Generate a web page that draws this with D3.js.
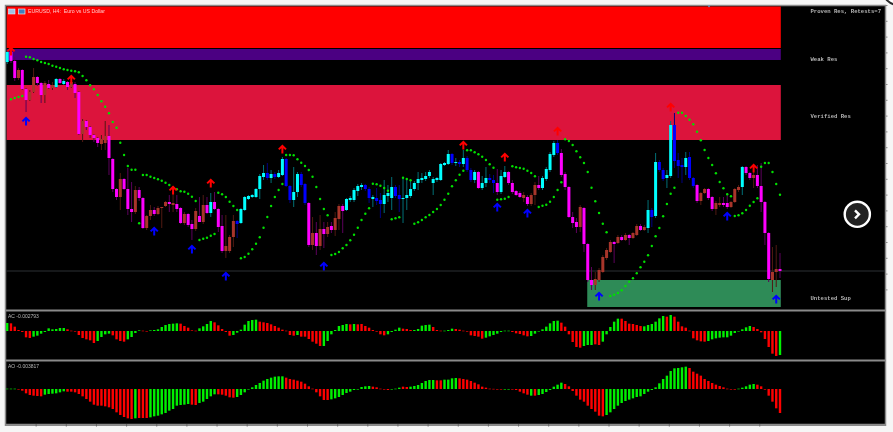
<!DOCTYPE html>
<html><head><meta charset="utf-8">
<style>html,body{margin:0;padding:0;background:#f6f6f6;overflow:hidden}svg{display:block;filter:blur(0.3px)}text{white-space:pre}</style>
<script src="https://cdn.jsdelivr.net/npm/d3@7"></script></head>
<body><script>
const chartTitle="EURUSD, H4:  Euro vs US Dollar";
const acLabel="AC -0.002793", aoLabel="AO -0.003817";
const zoneNames=["Proven Res, Retests=7","Weak Res","Verified Res","Untested Sup"];
const zoneLabelLevels=[309,261.5,204,22.5];
const zoneTops=[313.5,271,235,40], zoneBottoms=[272,260,180,13];
const zoneStartBars=[0,0,0,154];
const zoneColors=["#ff0000","#4b0082","#dc143c","#2e8b57"];
const currentLevel=49;
// candle kind: c bull-in-uptrend, b bear-in-uptrend, m bear-in-downtrend, r bull-in-downtrend
const kinds=("cmmrmmrrmm"+"rmrcmcmrmm"+"rmmmmrrmmm"+"rmmmrmmrrm"+"rrrmrmmrmm"+"rmrmcmmmrr"+"rbcccccccb"+"cbccbbccbb"+"mrmrmrmrrm"+"cccccbbcbb"+"cccbbccccc"+"ccccccccbc"+"bcbbcmccbb"+"mccmmmmrmr"+"rmccccbmmm"+"mmrmmmrrrr"+"rmrmrmrrmr"+"cbcbbccbbb"+"cbbmrrmmrr"+"mmrrrcmmrm"+"mmmrrm").split("");
const opens=[258,268,259,242,250,231,220,228,243,237,225,236,232,233,241,236,238,233,236,228,186,199,193,185,182,176,177,184,161,131,123,141,131,111,108,130,122,92,104,110,106,112,114,118,115,116,112,97,106,96,91,104,98,115,107,118,111,94,69,69,83,99,97,110,121,123,123,131,143,147,142,146,143,145,161,134,120,128,146,136,117,75,87,74,91,86,94,90,101,114,110,120,120,129,133,135,131,121,122,120,116,124,122,133,125,121,122,124,131,137,140,141,144,137,140,140,155,156,166,157,158,156,162,150,140,148,132,137,142,140,137,128,143,148,137,129,127,122,123,116,125,135,132,141,150,165,177,167,146,133,103,98,93,112,76,40,35,40,48,62,68,78,77,83,80,85,82,85,94,90,92,110,104,158,150,142,144,195,160,155,153,163,142,135,119,127,131,123,111,115,117,117,113,118,130,133,153,147,142,145,134,118,87,40,48,51];
const closes=[268,259,242,250,231,220,228,243,237,225,237,232,235,241,237,239,233,238,227,186,199,193,185,182,177,181,184,162,131,123,141,131,111,108,130,122,92,104,110,106,112,113,118,116,117,111,97,106,95,91,109,98,115,107,118,111,93,69,74,83,99,96,111,123,124,125,131,144,147,142,146,143,147,161,134,120,128,146,135,117,75,87,74,91,86,93,90,102,114,109,121,122,130,134,135,131,122,123,119,116,125,127,133,124,121,122,125,131,137,141,142,144,148,141,142,156,157,166,157,158,156,162,150,140,148,132,137,142,140,137,128,144,148,137,128,125,123,125,116,125,135,132,142,151,166,177,167,145,133,103,97,93,113,76,40,35,41,50,63,70,78,76,83,80,85,82,87,94,90,93,110,103,158,150,141,145,195,159,154,153,162,142,134,119,127,131,122,111,117,117,115,113,118,131,133,153,147,142,145,134,118,87,41,48,51,49];
const highs=[270,272,263,252,251,232,230,252,244,238,239,240,238,242,242,241,239,244,238,229,201,200,194,186,183,185,199,195,162,132,147,142,152,138,134,133,123,105,115,113,114,113,119,125,130,125,113,108,107,100,112,123,125,123,127,128,112,105,105,85,105,100,112,124,125,126,132,146,155,157,150,148,150,163,162,135,153,148,148,137,118,103,98,105,98,98,98,108,116,116,122,124,132,136,137,136,133,125,132,127,140,135,143,135,135,142,140,140,139,148,147,148,150,143,143,157,158,170,167,162,160,170,164,152,150,149,144,153,146,145,151,150,154,149,140,130,129,128,125,127,138,144,144,153,168,179,180,171,148,134,108,102,115,113,77,53,48,52,65,72,80,79,85,85,87,86,88,96,96,95,120,112,167,160,152,150,199,207,167,162,168,168,143,136,128,132,132,124,119,123,123,127,119,132,135,154,154,148,148,155,157,119,88,73,75,67];
const lows=[256,257,239,240,230,208,219,227,234,217,217,231,230,232,236,235,230,232,222,185,178,190,182,178,173,170,170,145,128,120,110,130,105,98,106,119,91,90,100,104,105,92,113,108,108,108,96,95,93,80,89,98,96,106,103,110,88,67,62,67,73,82,96,109,120,122,122,121,140,140,137,141,142,144,133,117,113,123,133,115,73,70,65,70,72,83,87,84,90,87,109,118,118,124,130,129,117,113,115,102,107,118,110,122,108,97,110,122,129,130,137,139,142,125,138,139,154,155,155,154,153,153,148,138,137,131,130,133,137,127,125,126,142,135,126,124,122,118,114,114,115,130,130,139,148,163,165,143,130,102,92,87,88,68,38,30,30,38,47,60,67,57,76,79,79,75,81,84,89,89,87,93,102,148,139,132,142,152,142,137,145,140,132,117,115,126,120,109,105,113,113,111,112,117,128,125,145,140,132,132,108,75,38,28,33,42];
const sar=[null,220.7,222,223,224,263.3,262.7,261,259.7,258,257,256,254.3,253.3,252,250.7,250,249.3,248.7,247.7,244,239.7,234.7,230.7,225,218.7,213.3,206.7,198,192.3,177.3,165,154,150.3,150.3,96.7,145,145,143.3,142,140.7,139.3,137.3,135,132.3,130.7,128.7,128.3,126.3,123.3,119,80,81.3,82.3,84.3,86,127.3,125.7,123,118.3,114,110,61.7,63,66.3,70.7,76.3,82.7,92.3,103,114,123,130,136,165,165,164.7,160.7,157.3,154,150,143.3,133,121,111,104.7,65,66,68,71.7,75,79.7,85.3,92.3,100,106.3,111.7,136.3,135.7,134.3,132,129.3,100.7,101.7,102.7,142.3,141,139.7,96.3,97.7,100,102.7,105,108,111,115,120.3,126.3,133.7,139.7,145.3,149.3,169.7,169.7,167.7,165.7,163.3,160,155.7,152.3,120.3,120.7,121.3,123,153.7,152.7,152,151.3,149.3,147,143.7,113,114.3,115.3,118.3,123,130,137.7,180.7,179,175,168.7,162.7,157,148,132.3,118.7,107,96.3,87.7,24,25.3,27,29.7,34,38.3,41.7,46.7,52.7,58.3,64.7,74,83.7,92,103.7,116,126.3,132.3,207.3,207.3,204,200.3,195.7,188.3,179.7,170,162,155,146.7,138,131.7,125.7,123.7,104,104.7,106.7,110,114.3,118,121.7,153.3,157,157,148,136,125.3];
const sellBars=[1,17,44,54,73,121,132,146,176,198], sellLevels=[273,245,134,141,175,179,167,193,217,156];
const buyBars=[5,39,49,58,84,130,138,157,191,204], buyLevels=[203,93,75,48,58,117,111,28,108,25];
const acValues=[24,23,13,3,-3,-19,-21,-17,-14,-8,-3,8,5,6,9,9,5,1,-1,-12,-21,-25,-28,-36,-30,-18,-10,-8,-13,-25,-30,-32,-25,-18,-6,2,1,-1,2,3,5,12,18,21,22,23,22,15,10,2,1,8,14,21,30,26,17,6,-3,-14,-12,-5,4,19,30,33,34,28,26,24,20,15,10,4,1,-12,-14,-12,-17,-17,-24,-32,-38,-45,-45,-30,-10,3,15,18,21,20,21,20,21,15,10,3,-2,-10,-13,-10,-3,4,10,7,6,3,3,6,16,18,19,12,3,1,1,3,7,6,4,1,-2,-13,-15,-17,-23,-20,-16,-12,-8,-3,1,1,-3,-7,-9,-13,-16,-15,-8,-1,5,13,23,30,31,25,13,-10,-33,-48,-50,-45,-42,-42,-40,-42,-32,-10,12,28,37,37,30,22,21,18,15,14,18,21,28,38,45,43,48,43,28,14,10,1,-22,-28,-31,-32,-30,-25,-22,-20,-19,-19,-14,-6,-1,5,11,15,12,6,-4,-24,-48,-68,-75,-72];
const acColors=("grrrrrrggg"+"ggggggrrrr"+"rrrrggggrr"+"rrggggrrgg"+"ggggggrrrr"+"rggggrrrrr"+"gggggggrrr"+"rrrrrrrgrr"+"rrrrgggggg"+"grgrrrrrrr"+"rggggrrrgg"+"gggrrrgggr"+"rrrrrrrggg"+"ggggrrrrrg"+"gggggggrrr"+"rrrgggrrgg"+"gggrrrrrrg"+"gggggrgrrr"+"rrrrrrgggg"+"ggggggggrr"+"rrrrrg").split("");
const aoValues=[1,1,1,-1,-5,-13,-18,-20,-21,-22,-17,-15,-14,-13,-10,-7,-8,-8,-10,-15,-22,-30,-38,-47,-50,-50,-52,-55,-60,-70,-78,-84,-88,-90,-88,-87,-87,-87,-85,-82,-80,-76,-72,-65,-60,-50,-48,-47,-45,-47,-48,-42,-38,-30,-22,-16,-16,-17,-20,-25,-26,-24,-18,-10,-1,5,12,18,25,30,34,37,38,38,34,30,28,25,22,16,8,1,-10,-22,-33,-33,-31,-28,-24,-18,-12,-8,-3,-1,6,8,9,7,5,1,-1,-3,-1,1,4,7,6,7,9,12,18,24,27,27,26,26,28,28,32,33,32,30,28,24,19,14,7,4,1,0.5,-1,-1,-1,-1,-1,-3,-8,-13,-17,-20,-20,-18,-15,-9,-3,7,13,19,15,8,-6,-20,-32,-38,-50,-60,-68,-80,-82,-78,-70,-60,-50,-42,-36,-32,-28,-24,-22,-15,-8,-3,5,17,30,40,54,62,63,65,67,63,52,46,40,30,24,18,13,9,5,1,-1,-2,1,4,8,13,15,13,8,-2,-20,-38,-58,-72];
const aoColors=("gggrrrrrrr"+"ggggggrrrr"+"rrrrrrrrrr"+"rrrrgrrrgg"+"gggggggggr"+"rgggggrrrr"+"rggggggggg"+"ggggrrrrrr"+"rrrrrrgggg"+"gggggggrrr"+"rrgggrrggg"+"ggggrrgggg"+"rrrrrrrrrr"+"rrggrrrrrg"+"rgggggggrr"+"rrrrrrrrrg"+"gggggggggg"+"gggggggggg"+"grrrrrrrrr"+"rrrrgggggr"+"rrrrrr").split("");

[kinds,opens,closes,highs,lows,sar,acValues,acColors,aoValues,aoColors].forEach((a,i)=>{if(a.length!==206)throw new Error("array "+i+" length "+a.length)});

const W=893,H=432;
const svg=d3.select("body").append("svg").attr("width",W).attr("height",H);
const barIndex=d3.range(206);
const x=d3.scaleLinear().domain([0,205]).range([7.2,780]);
const y=d3.scaleLinear().domain([320,0]).range([0,320]);
const yAC=d3.scaleLinear().domain([57,-81]).range([312,358]);
const yAO=d3.scaleLinear().domain([81,-105]).range([362,424]);

const bodyFill={c:"#00ffff",b:"#0000ff",m:"#ff00ff",r:"#a8352a"};
const wickFill={c:"#006f76",b:"#000080",m:"#5c005c",r:"#501a12"};
const barFill={g:"#00f000",r:"#ff0000"};

// frame
svg.append("rect").attr("x",5.5).attr("y",5.5).attr("width",880).attr("height",420).attr("fill","#000").attr("stroke","#8a8a8a").attr("stroke-width",1.5);

// zones
const zoneIdx=d3.range(zoneTops.length);
const zoneLeft=i=>zoneStartBars[i]===0?6.7:x(zoneStartBars[i])-0.5;
svg.append("g").selectAll("rect").data(zoneIdx).join("rect")
 .attr("x",zoneLeft)
 .attr("y",i=>y(zoneTops[i])).attr("width",i=>780.8-zoneLeft(i))
 .attr("height",i=>y(zoneBottoms[i])-y(zoneTops[i])).attr("fill",i=>zoneColors[i]);

// current price line
svg.append("line").attr("x1",6).attr("x2",885).attr("y1",y(currentLevel)).attr("y2",y(currentLevel)).attr("stroke","#2c3034").attr("stroke-width",1.2);

// candles
const cg=svg.append("g");
cg.selectAll("line").data(barIndex).join("line")
 .attr("x1",x).attr("x2",x).attr("y1",i=>y(highs[i])).attr("y2",i=>y(lows[i]))
 .attr("stroke",i=>wickFill[kinds[i]]).attr("stroke-width",1);
cg.selectAll("rect").data(barIndex).join("rect")
 .attr("x",i=>x(i)-1.5).attr("width",3)
 .attr("y",i=>y(Math.max(opens[i],closes[i])))
 .attr("height",i=>Math.max(1,Math.abs(y(opens[i])-y(closes[i]))))
 .attr("fill",i=>bodyFill[kinds[i]]);

// SAR dots
svg.append("g").selectAll("circle").data(barIndex.filter(i=>sar[i]!==null)).join("circle")
 .attr("cx",x).attr("cy",i=>y(sar[i])).attr("r",1.2).attr("fill","#00e000");

// arrows
function arrow(px,tip){return `M${px},${tip+8.5}V${tip+1}M${px-3.6},${tip+4.4}L${px},${tip+0.8}L${px+3.6},${tip+4.4}`;}
const ag=svg.append("g").attr("fill","none").attr("stroke-width",2);
ag.selectAll(".s").data(sellBars).join("path").attr("class","s").attr("stroke","#ff0000")
 .attr("d",(b,i)=>arrow(x(b),y(sellLevels[i])));
ag.selectAll(".u").data(buyBars).join("path").attr("class","u").attr("stroke","#0000ff")
 .attr("d",(b,i)=>arrow(x(b),y(buyLevels[i])));

// indicator panes
function pane(vals,cols,sc,cls){
 svg.append("g").selectAll("rect").data(barIndex).join("rect").attr("class",cls)
  .attr("x",i=>x(i)-1.2).attr("width",2.4)
  .attr("y",i=>Math.min(sc(vals[i]),sc(0)))
  .attr("height",i=>Math.max(0.6,Math.abs(sc(vals[i])-sc(0))))
  .attr("fill",i=>barFill[cols[i]]);
}
pane(acValues,acColors,yAC,"ac");
pane(aoValues,aoColors,yAO,"ao");

// separators
[310.5,360.5].forEach(v=>svg.append("line").attr("x1",5).attr("x2",886).attr("y1",v).attr("y2",v).attr("stroke","#8a8a8a").attr("stroke-width",1.8));
svg.append("line").attr("x1",5).attr("x2",886).attr("y1",424.5).attr("y2",424.5).attr("stroke","#8a8a8a").attr("stroke-width",1.5);
svg.append("rect").attr("x",0).attr("y",426).attr("width",W).attr("height",6).attr("fill","#f6f6f6");

// axis ticks
const bottomTicks=d3.range(1,26).map(k=>6+k*30.15);
svg.append("g").selectAll("line").data(bottomTicks).join("line").attr("x1",d=>d).attr("x2",d=>d).attr("y1",424).attr("y2",426.5).attr("stroke","#666");
const rightTicks=d3.range(0,19).map(k=>5.5+k*15.8);
svg.append("g").selectAll("line").data(rightTicks).join("line").attr("x1",885).attr("x2",887.5).attr("y1",d=>d).attr("y2",d=>d).attr("stroke","#888");

// labels
svg.append("g").selectAll("text").data(zoneNames).join("text")
 .attr("x",810.5).attr("y",(d,i)=>y(zoneLabelLevels[i])+2)
 .attr("font-family","Liberation Mono, DejaVu Sans Mono, monospace").attr("font-size",5.6).attr("font-weight","bold").attr("fill","#b4b4b4").text(d=>d);
const sans="Liberation Sans, Arial, sans-serif";
svg.append("text").attr("x",28).attr("y",13).attr("font-family",sans).attr("font-size",5.2).attr("fill","#ffc8c8").text(chartTitle);
svg.append("text").attr("x",8).attr("y",317.5).attr("font-family",sans).attr("font-size",5).attr("fill","#b8b8b8").text(acLabel);
svg.append("text").attr("x",8).attr("y",367.5).attr("font-family",sans).attr("font-size",5).attr("fill","#b8b8b8").text(aoLabel);

// title icons
svg.append("rect").attr("x",8.5).attr("y",9).attr("width",6.5).attr("height",5).attr("fill","#9fc4e4").attr("stroke","#ddeeff").attr("stroke-width",.6);
svg.append("rect").attr("x",18.5).attr("y",9).attr("width",6.5).attr("height",5).attr("fill","#3f7fc0").attr("stroke","#e8e8e8").attr("stroke-width",.7);

// overlay buttons
svg.append("circle").attr("cx",857.3).attr("cy",214.3).attr("r",12.6).attr("fill","#222").attr("stroke","#fff").attr("stroke-width",2.4);
svg.append("path").attr("d","M855,210.3L859,214.3L855,218.3").attr("fill","none").attr("stroke","#fff").attr("stroke-width",2.4);
svg.append("circle").attr("cx",898).attr("cy",-10).attr("r",15).attr("fill","#fff").attr("stroke","#2a2a2a").attr("stroke-width",2);
svg.append("path").attr("d","M707.5,5.5L710.5,5.5L709,7.5Z").attr("fill","#5a9fd0");
</script></body></html>
